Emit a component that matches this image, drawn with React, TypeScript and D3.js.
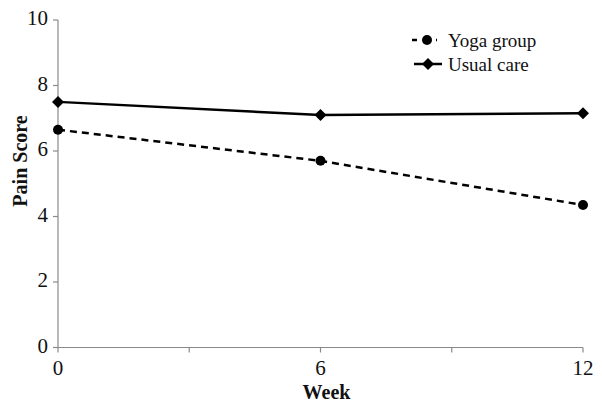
import React from "react";
import * as d3 from "d3";

const weeks = [0, 6, 12];
const yogaGroup = [6.65, 5.7, 4.35];
const usualCare = [7.5, 7.1, 7.15];
const xTicks = [0, 3, 6, 9, 12];
const xTickLabels = ["0", "", "6", "", "12"];
const yTicks = [0, 2, 4, 6, 8, 10];
const seriesNames = ["Yoga group", "Usual care"];

const W = 602;
const H = 411;
const FONT = "'Liberation Serif', 'DejaVu Serif', serif";

export default function App() {
  const x = d3.scaleLinear().domain([0, 12]).range([58, 583]);
  const y = d3.scaleLinear().domain([0, 10]).range([347.5, 20]);
  const line = d3
    .line<number>()
    .x((_, i) => x(weeks[i]))
    .y((d) => y(d));
  const axisColor = "#8a8a8a";
  const diamond = (cx: number, cy: number, r: number) =>
    `M${cx},${cy - r}L${cx + r},${cy}L${cx},${cy + r}L${cx - r},${cy}Z`;

  return (
    <svg
      width={W}
      height={H}
      style={{ position: "absolute", left: 0, top: 0, background: "#fff" }}
      fontFamily={FONT}
    >
      <rect width={W} height={H} fill="#fff" />
      {/* y axis */}
      <line x1={x(0)} x2={x(0)} y1={y(10)} y2={y(0)} stroke={axisColor} strokeWidth={1.2} />
      {yTicks.map((t) => (
        <g key={"y" + t}>
          <line x1={x(0) - 5} x2={x(0)} y1={y(t)} y2={y(t)} stroke={axisColor} strokeWidth={1.2} />
          <text x={x(0) - 10} y={y(t) - 2} dy="0.35em" textAnchor="end" fontSize={21} fill="#111">
            {t}
          </text>
        </g>
      ))}
      {/* x axis */}
      <line x1={x(0)} x2={x(12)} y1={y(0)} y2={y(0)} stroke={axisColor} strokeWidth={1.2} />
      {xTicks.map((t, i) => (
        <g key={"x" + t}>
          <line x1={x(t)} x2={x(t)} y1={y(0)} y2={y(0) + 5} stroke={axisColor} strokeWidth={1.2} />
          <text x={x(t)} y={375} textAnchor="middle" fontSize={21} fill="#111">
            {xTickLabels[i]}
          </text>
        </g>
      ))}
      <text x={(x(0) + x(12)) / 2 + 6} y={399} textAnchor="middle" fontSize={20} fontWeight="bold" fill="#111">
        Week
      </text>
      <text
        transform={`translate(27,161) rotate(-90)`}
        textAnchor="middle"
        fontSize={20}
        fontWeight="bold"
        fill="#111"
      >
        Pain Score
      </text>
      {/* series */}
      <path d={line(usualCare) || ""} fill="none" stroke="#000" strokeWidth={2.5} />
      <path d={line(yogaGroup) || ""} fill="none" stroke="#000" strokeWidth={2.5} strokeDasharray="7,5" />
      {usualCare.map((v, i) => (
        <path key={"u" + i} d={diamond(x(weeks[i]), y(v), 6)} fill="#000" />
      ))}
      {yogaGroup.map((v, i) => (
        <circle key={"g" + i} cx={x(weeks[i])} cy={y(v)} r={5} fill="#000" />
      ))}
      {/* legend */}
      <line x1={412} x2={437} y1={40} y2={40} stroke="#000" strokeWidth={2.5} strokeDasharray="5,7" />
      <circle cx={427} cy={40} r={5} fill="#000" />
      <text x={448} y={40} dy="0.35em" fontSize={19} fill="#111">
        {seriesNames[0]}
      </text>
      <line x1={414} x2={442} y1={64} y2={64} stroke="#000" strokeWidth={2.5} />
      <path d={diamond(428, 64, 6)} fill="#000" />
      <text x={448} y={64} dy="0.35em" fontSize={19} fill="#111">
        {seriesNames[1]}
      </text>
    </svg>
  );
}
